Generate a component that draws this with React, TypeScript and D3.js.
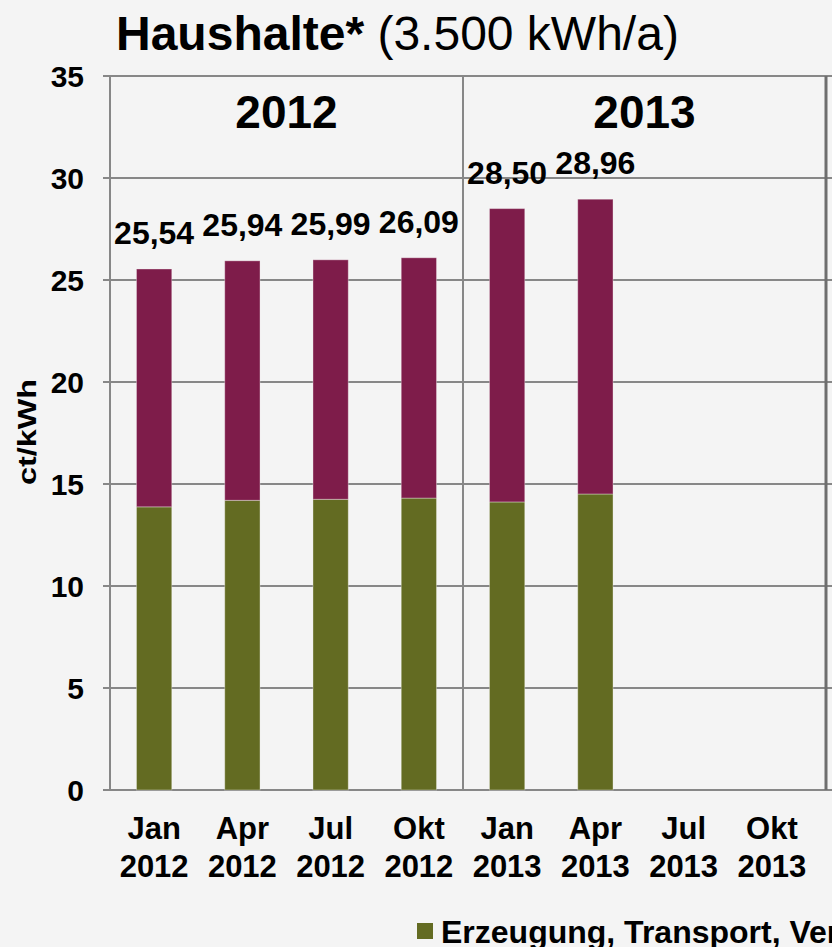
import { useEffect } from 'react';
import * as d3 from 'd3';

// Quartal labels (two lines each)
const months = ['Jan', 'Apr', 'Jul', 'Okt', 'Jan', 'Apr', 'Jul', 'Okt'];
const years = ['2012', '2012', '2012', '2012', '2013', '2013', '2013', '2013'];
const yearGroups = ['2012', '2013'];

// Erzeugung, Transport, Vertrieb (ct/kWh)
const erzeugung = [13.88, 14.2, 14.25, 14.31, 14.12, 14.51];
// Steuern, Abgaben, Umlagen (ct/kWh)
const steuern = [11.66, 11.74, 11.74, 11.78, 14.38, 14.45];
// Total labels shown above the bars
const totals = ['25,54', '25,94', '25,99', '26,09', '28,50', '28,96'];

const yTicks = [0, 5, 10, 15, 20, 25, 30, 35];

const W = 832;
const H = 947;
const FONT = 'Liberation Sans, Arial, sans-serif';
const GREEN = '#636b22';
const MAROON = '#7e1c4a';
const GRID = '#878787';

export default function App() {
  useEffect(() => {
    document.body.style.margin = '0';
    document.body.style.background = '#f4f4f4';
  }, []);

  const margin = { left: 110, top: 76, bottom: 790 };
  const x = d3.scaleBand<number>()
    .domain(d3.range(months.length))
    .range([margin.left, 816])
    .paddingInner(0.6)
    .paddingOuter(0.3);
  const band = d3.scaleBand<number>().domain(d3.range(months.length)).range([margin.left, 816]);
  const y = d3.scaleLinear().domain([0, 35]).range([margin.bottom, margin.top]);

  const rows = erzeugung.map((g, i) => ({ i, g, s: steuern[i] }));
  const stack = d3.stack<{ i: number; g: number; s: number }>().keys(['g', 's'])(rows);
  const colors = [GREEN, MAROON];

  const divider1 = band(4)!;
  const divider2 = 826;

  return (
    <svg width={W} height={H} style={{ display: 'block', background: '#f4f4f4', fontFamily: FONT }}>
      <text x={116} y={50} fontSize={48} fill="#000">
        <tspan fontWeight="bold">Haushalte*</tspan>
        <tspan> (3.500 kWh/a)</tspan>
      </text>

      {/* grid */}
      {yTicks.map(t => (
        <g key={t}>
          <line x1={103} x2={W} y1={y(t)} y2={y(t)} stroke={GRID} strokeWidth={2} />
          <text x={84} y={y(t) + 11} textAnchor="end" fontSize={30} fontWeight="bold">{t}</text>
        </g>
      ))}
      <line x1={margin.left} x2={margin.left} y1={margin.top} y2={margin.bottom} stroke={GRID} strokeWidth={2} />
      <line x1={divider1} x2={divider1} y1={margin.top} y2={margin.bottom} stroke={GRID} strokeWidth={2} />
      <line x1={divider2} x2={divider2} y1={margin.top} y2={margin.bottom} stroke="#6e6e6e" strokeWidth={3} />

      {/* year group labels */}
      {yearGroups.map((yr, k) => {
        const x0 = k === 0 ? margin.left : divider1;
        const x1 = k === 0 ? divider1 : divider2;
        return (
          <text key={yr} x={(x0 + x1) / 2} y={128} textAnchor="middle" fontSize={46} fontWeight="bold">{yr}</text>
        );
      })}

      {/* bars */}
      {stack.map((series, si) => (
        <g key={si}>
          {series.map((d, i) => (
            <rect
              key={i}
              x={x(i)}
              width={x.bandwidth()}
              y={y(d[1])}
              height={y(d[0]) - y(d[1])}
              fill={colors[si]}
              stroke="#ffffff"
              strokeOpacity={0.35}
              strokeWidth={1}
            />
          ))}
        </g>
      ))}

      {/* total labels */}
      {totals.map((t, i) => (
        <text
          key={i}
          x={x(i)! + x.bandwidth() / 2}
          y={y(erzeugung[i] + steuern[i]) - 25}
          textAnchor="middle"
          fontSize={32}
          fontWeight="bold"
        >{t}</text>
      ))}

      {/* x labels */}
      {months.map((m, i) => (
        <text key={i} x={band(i)! + band.bandwidth() / 2} textAnchor="middle" fontSize={31} fontWeight="bold">
          <tspan x={band(i)! + band.bandwidth() / 2} y={839}>{m}</tspan>
          <tspan x={band(i)! + band.bandwidth() / 2} y={877}>{years[i]}</tspan>
        </text>
      ))}

      {/* y axis title */}
      <text
        transform="translate(36,432) rotate(-90)"
        textAnchor="middle"
        fontSize={25}
        fontWeight="bold"
        textLength={106}
        lengthAdjust="spacingAndGlyphs"
      >ct/kWh</text>

      {/* legend */}
      <rect x={417} y={923} width={16} height={16} fill={GREEN} />
      <text x={441} y={943} fontSize={32} fontWeight="bold">Erzeugung, Transport, Vertrieb</text>
    </svg>
  );
}
